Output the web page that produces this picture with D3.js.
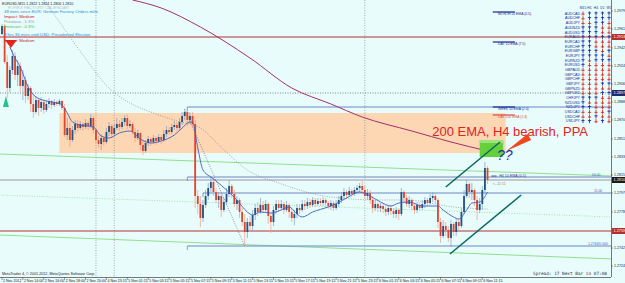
<!DOCTYPE html>
<html>
<head>
<meta charset="utf-8">
<script src="https://cdn.jsdelivr.net/npm/d3@7"></script>
<style>
  body { margin: 0; background: #fff; }
  svg { display: block; font-family: "Liberation Sans", Arial, sans-serif; }
</style>
</head>
<body>
<svg width="625" height="283"></svg>
<script>
// **** chart values (EURUSD, M15) ****

const firstOpen = 1.2956;

const closes = [
  1.2964, 1.2928, 1.2902, 1.2920, 1.2934, 1.2915, 1.2924, 1.2904, 1.2910, 1.2894,
  1.2902, 1.2886, 1.2878, 1.2890, 1.2882, 1.2888, 1.2880, 1.2886, 1.2889, 1.2885,
  1.2888, 1.2886, 1.2889, 1.2882, 1.2855, 1.2862, 1.2850, 1.2860, 1.2866, 1.2862,
  1.2866, 1.2863, 1.2867, 1.2864, 1.2872, 1.2860, 1.2850, 1.2846, 1.2852, 1.2848,
  1.2858, 1.2864, 1.2856, 1.2862, 1.2866, 1.2863, 1.2868, 1.2872, 1.2864, 1.2866,
  1.2858, 1.2852, 1.2857, 1.2845, 1.2839, 1.2847, 1.2851, 1.2848, 1.2852, 1.2849,
  1.2853, 1.2850, 1.2856, 1.2860, 1.2858, 1.2863, 1.2865, 1.2862, 1.2868, 1.2874,
  1.2878, 1.2870, 1.2874, 1.2866, 1.2794, 1.2786, 1.2772, 1.2785, 1.2794, 1.2802,
  1.2808, 1.2798, 1.2790, 1.2794, 1.2780, 1.2788, 1.2796, 1.2804, 1.2796, 1.2786,
  1.2790, 1.2778, 1.2768, 1.2758, 1.2768, 1.2764, 1.2775, 1.2782, 1.2778, 1.2785,
  1.2780, 1.2786, 1.2774, 1.2768, 1.2780, 1.2786, 1.2782, 1.2786, 1.2780, 1.2785,
  1.2778, 1.2772, 1.2776, 1.2782, 1.2780, 1.2786, 1.2784, 1.2788, 1.2785, 1.2790,
  1.2786, 1.2789, 1.2787, 1.2790, 1.2787, 1.2784, 1.2787, 1.2782, 1.2786, 1.2790,
  1.2794, 1.2798, 1.2795, 1.2799, 1.2796, 1.2800, 1.2802, 1.2804, 1.2800, 1.2794,
  1.2797, 1.2790, 1.2782, 1.2786, 1.2782, 1.2784, 1.2781, 1.2778, 1.2782, 1.2779,
  1.2776, 1.2780, 1.2776, 1.2798, 1.2792, 1.2786, 1.2790, 1.2784, 1.2780, 1.2785,
  1.2782, 1.2786, 1.2790, 1.2787, 1.2792, 1.2794, 1.2790, 1.2768, 1.2754, 1.2764,
  1.2760, 1.2752, 1.2766, 1.2758, 1.2768, 1.2764, 1.2778, 1.2794, 1.2806, 1.2798,
  1.2800, 1.2790, 1.2780, 1.2786, 1.2800, 1.2822, 1.2810
];

const highs = [
  1.2966, 1.2966, 1.2935, 1.2924, 1.2940, 1.2938, 1.2930, 1.2928, 1.2920, 1.2914,
  1.2906, 1.2904, 1.2896, 1.2894, 1.2892, 1.2893, 1.2891, 1.2890, 1.2892, 1.2890,
  1.2891, 1.2890, 1.2891, 1.2890, 1.2886, 1.2872, 1.2868, 1.2864, 1.2870, 1.2870,
  1.2869, 1.2868, 1.2871, 1.2869, 1.2876, 1.2874, 1.2862, 1.2854, 1.2856, 1.2854,
  1.2862, 1.2868, 1.2866, 1.2866, 1.2872, 1.2870, 1.2872, 1.2875, 1.2876, 1.2870,
  1.2868, 1.2862, 1.2860, 1.2858, 1.2850, 1.2850, 1.2854, 1.2853, 1.2855, 1.2854,
  1.2856, 1.2855, 1.2860, 1.2864, 1.2863, 1.2866, 1.2869, 1.2868, 1.2872, 1.2878,
  1.2881, 1.2880, 1.2878, 1.2878, 1.2870, 1.2800, 1.2794, 1.2790, 1.2800, 1.2807,
  1.2813, 1.2812, 1.2802, 1.2798, 1.2796, 1.2792, 1.2802, 1.2810, 1.2806, 1.2800,
  1.2794, 1.2792, 1.2782, 1.2776, 1.2772, 1.2774, 1.2780, 1.2786, 1.2788, 1.2792,
  1.2789, 1.2790, 1.2788, 1.2778, 1.2784, 1.2790, 1.2790, 1.2790, 1.2788, 1.2789,
  1.2787, 1.2782, 1.2780, 1.2786, 1.2786, 1.2790, 1.2790, 1.2792, 1.2791, 1.2793,
  1.2792, 1.2792, 1.2792, 1.2793, 1.2792, 1.2789, 1.2790, 1.2789, 1.2790, 1.2794,
  1.2798, 1.2802, 1.2800, 1.2803, 1.2801, 1.2803, 1.2805, 1.2807, 1.2809, 1.2804,
  1.2801, 1.2800, 1.2794, 1.2790, 1.2788, 1.2787, 1.2787, 1.2785, 1.2785, 1.2785,
  1.2782, 1.2783, 1.2782, 1.2802, 1.2800, 1.2795, 1.2794, 1.2792, 1.2787, 1.2788,
  1.2788, 1.2790, 1.2793, 1.2792, 1.2796, 1.2798, 1.2797, 1.2792, 1.2772, 1.2770,
  1.2768, 1.2764, 1.2770, 1.2768, 1.2772, 1.2771, 1.2782, 1.2800, 1.2810, 1.2808,
  1.2807, 1.2802, 1.2794, 1.2792, 1.2804, 1.2828, 1.2824
];

const lows = [
  1.2955, 1.2926, 1.2892, 1.2898, 1.2916, 1.2910, 1.2904, 1.2898, 1.2890, 1.2887,
  1.2890, 1.2878, 1.2872, 1.2876, 1.2874, 1.2878, 1.2876, 1.2878, 1.2882, 1.2881,
  1.2883, 1.2884, 1.2884, 1.2880, 1.2853, 1.2850, 1.2843, 1.2848, 1.2856, 1.2858,
  1.2860, 1.2859, 1.2861, 1.2860, 1.2862, 1.2856, 1.2847, 1.2842, 1.2840, 1.2844,
  1.2846, 1.2854, 1.2852, 1.2854, 1.2860, 1.2859, 1.2861, 1.2864, 1.2861, 1.2862,
  1.2855, 1.2848, 1.2850, 1.2840, 1.2835, 1.2837, 1.2844, 1.2844, 1.2846, 1.2845,
  1.2847, 1.2846, 1.2848, 1.2853, 1.2855, 1.2856, 1.2860, 1.2859, 1.2860, 1.2865,
  1.2870, 1.2864, 1.2866, 1.2862, 1.2782, 1.2776, 1.2763, 1.2768, 1.2782, 1.2790,
  1.2798, 1.2794, 1.2787, 1.2782, 1.2773, 1.2778, 1.2785, 1.2793, 1.2792, 1.2783,
  1.2780, 1.2772, 1.2764, 1.2744, 1.2752, 1.2758, 1.2760, 1.2770, 1.2774, 1.2776,
  1.2777, 1.2778, 1.2766, 1.2757, 1.2764, 1.2776, 1.2778, 1.2780, 1.2776, 1.2778,
  1.2772, 1.2768, 1.2765, 1.2772, 1.2776, 1.2778, 1.2780, 1.2781, 1.2782, 1.2783,
  1.2783, 1.2784, 1.2784, 1.2784, 1.2782, 1.2781, 1.2780, 1.2779, 1.2780, 1.2783,
  1.2787, 1.2791, 1.2792, 1.2793, 1.2793, 1.2794, 1.2796, 1.2797, 1.2796, 1.2791,
  1.2790, 1.2786, 1.2777, 1.2779, 1.2778, 1.2778, 1.2777, 1.2774, 1.2775, 1.2775,
  1.2772, 1.2772, 1.2770, 1.2774, 1.2787, 1.2783, 1.2782, 1.2780, 1.2776, 1.2777,
  1.2779, 1.2780, 1.2782, 1.2784, 1.2785, 1.2788, 1.2786, 1.2762, 1.2747, 1.2752,
  1.2754, 1.2748, 1.2743, 1.2754, 1.2754, 1.2760, 1.2762, 1.2776, 1.2792, 1.2792,
  1.2790, 1.2784, 1.2770, 1.2777, 1.2780, 1.2796, 1.2806
];

// moving averages, read as [bar, price] points
const fastEma = [
  [3,1.2943],[5,1.2932],[7,1.2923],[10,1.2903],[13,1.2893],[17,1.2889],[21,1.2887],[23,1.2885],
  [25,1.2877],[27,1.2868],[30,1.2865],[35,1.2863],[38,1.2854],[41,1.2852],[45,1.2857],[49,1.2859],
  [53,1.2851],[57,1.2847],[61,1.2849],[66,1.2855],[69,1.2862],[72,1.2868],[73,1.2868],[75,1.2842],
  [77,1.2820],[80,1.2813],[82,1.2809],[86,1.2800],[90,1.2790],[94,1.2778],[96,1.2775],[99,1.2778],
  [103,1.2777],[106,1.2779],[110,1.2783],[113,1.2776],[115,1.2773],[119,1.2778],[125,1.2783],
  [127,1.2785],[132,1.2792],[137,1.2798],[141,1.2794],[145,1.2788],[149,1.2784],[152,1.2787],
  [156,1.2788],[161,1.2784],[167,1.2784],[169,1.2780],[173,1.2773],[175,1.2771],[178,1.2780],
  [180,1.2787],[183,1.2788],[186,1.2798]
];
const slowEma = [
  [16,1.2990],[22,1.2968],[31,1.2935],[41,1.2902],[49,1.2887],[57,1.2878],[67,1.2869],[76,1.2862],
  [85,1.2840],[94,1.2820],[106,1.2807],[126,1.2793],[145,1.2790],[155,1.2790],[173,1.2783],[186,1.2781]
];
const ema200 = [
  [50,1.2990],[61,1.2982],[76,1.2963],[95,1.2932],[111,1.2902],[126,1.2886],[138,1.2873],
  [157,1.2859],[172,1.2848],[186,1.2839]
];

// levels and drawn objects
const redLevels = [1.2953, 1.2759];
const askLevel = 1.2897;
const blueLevels = [1.2883, 1.2813, 1.2797, 1.2744];
const blueLevelStart = [71, 71, 77, 71];
const emaLabels = ['MONTH 10 EMA (0.5)', 'DAY 10 EMA (7.5)', 'WEEK 10 EMA (2.0)', 'DAY 200 EMA (2.4)'];
const emaLabelPrices = [1.2978, 1.2948, 1.2883, 1.2875];
const supplyZone = { from: 22, to: 193, top: 1.2877, bottom: 1.2837 };
const greenBox = { from: 183, to: 192, top: 1.2850, bottom: 1.2833 };
const channelUpper = [[170, 1.2803], [190.8, 1.2848]];
const channelLower = [[171.6, 1.2736], [198.9, 1.2795]];
const greenLines = [
  [[-1, 1.2836], [234, 1.2814]],
  [[-1, 1.2795], [234, 1.2773]],
  [[-1, 1.2755], [234, 1.2731]]
];
const dottedTrend = [[70, 1.2881], [93, 1.2744]];
const daySeparators = [36, 43, 139];

// axes
const timeLabels = ['2 Nov 2012', '2 Nov 14:00', '2 Nov 16:00', '2 Nov 18:00', '2 Nov 20:00', '4 Nov 23:15',
  '5 Nov 01:15', '5 Nov 03:15', '5 Nov 05:15', '5 Nov 07:15', '5 Nov 09:15', '5 Nov 11:15',
  '5 Nov 13:15', '5 Nov 15:15', '5 Nov 17:15', '5 Nov 19:15', '5 Nov 21:15', '5 Nov 23:15',
  '6 Nov 01:15', '6 Nov 03:15', '6 Nov 05:15', '6 Nov 07:15', '6 Nov 09:15', '6 Nov 11:15'];
const priceTicks = [1.2979, 1.2961, 1.2942, 1.2924, 1.2906, 1.2888, 1.2870, 1.2851, 1.2833,
  1.2815, 1.2797, 1.2778, 1.2760, 1.2742, 1.2724];

// currency strength panel
const pairs = ['AUDCAD', 'AUDCHF', 'AUDJPY', 'AUDNZD', 'AUDUSD', 'EURAUD', 'EURCAD', 'EURCHF',
  'EURGBP', 'EURJPY', 'EURNZD', 'EURUSD', 'GBPAUD', 'GBPCAD', 'GBPCHF', 'GBPJPY', 'GBPNZD',
  'GBPUSD', 'CHFJPY', 'NZDUSD', 'NZDJPY', 'USDCAD', 'USDCHF', 'USDJPY'];
const frames = ['M15', 'H1', 'H4', 'D1', 'W1'];
const signals = ['duuuu', 'duuuu', 'dduud', 'uuudd', 'uuudd', 'uuuuu', 'uuddd', 'uuddd',
  'uuudu', 'uuuud', 'uduuu', 'udddd', 'ddddd', 'ddddd', 'ddddd', 'ddduu', 'ddddd',
  'ddduu', 'uuudd', 'udddd', 'uuddd', 'ddddu', 'ddudd', 'uudud'];

// calendar text
const calendarLines = ['FOREX FACTORY CALENDAR', '48 mins since EUR: German Factory Orders m/m',
  'Impact: Medium', 'Previous: -1.3%', 'Forecast: -0.3%',
  '9 hrs 36 mins until USD: Presidential Election', 'Impact: Medium'];

// **** drawing ****

const W = 625, H = 283, plotR = 611, plotB = 277;
const svg = d3.select('svg');

const x = d3.scaleLinear().domain([0, 233.3]).range([2, plotR]);
const y = d3.scaleLinear().domain([1.2713, 1.2990]).range([plotB, 0]);

svg.append('rect').attr('width', W).attr('height', H).attr('fill', '#e9fcfc');

svg.append('clipPath').attr('id', 'plot')
  .append('rect').attr('width', plotR).attr('height', plotB);

const plot = svg.append('g').attr('clip-path', 'url(#plot)');

// supply zone
plot.append('rect')
  .attr('x', x(supplyZone.from)).attr('width', x(supplyZone.to) - x(supplyZone.from))
  .attr('y', y(supplyZone.top)).attr('height', y(supplyZone.bottom) - y(supplyZone.top))
  .attr('fill', '#fdd6b3');

// day separators
daySeparators.forEach(b => {
  plot.append('line')
    .attr('x1', x(b)).attr('x2', x(b)).attr('y1', 0).attr('y2', plotB)
    .attr('stroke', '#777').attr('stroke-width', 0.6).attr('stroke-dasharray', '1,1.5');
});

// green sloping lines
greenLines.forEach((ln, k) => {
  plot.append('line')
    .attr('x1', x(ln[0][0])).attr('y1', y(ln[0][1]))
    .attr('x2', x(ln[1][0])).attr('y2', y(ln[1][1]))
    .attr('stroke', '#8fdf8f').attr('stroke-width', k === 1 ? 0.8 : 1)
    .attr('stroke-dasharray', k === 1 ? '1,1.5' : null);
});

// ask dotted line
plot.append('line')
  .attr('x1', 0).attr('x2', plotR).attr('y1', y(askLevel)).attr('y2', y(askLevel))
  .attr('stroke', '#555').attr('stroke-width', 0.7).attr('stroke-dasharray', '1,1.5');

// bid line (last close)
const lastClose = closes[closes.length - 1];
plot.append('line')
  .attr('x1', 0).attr('x2', plotR).attr('y1', y(lastClose)).attr('y2', y(lastClose))
  .attr('stroke', '#c4c8cc').attr('stroke-width', 1.8);

// blue indicator levels
blueLevels.forEach((p, k) => {
  plot.append('line')
    .attr('x1', x(blueLevelStart[k])).attr('x2', plotR).attr('y1', y(p)).attr('y2', y(p))
    .attr('stroke', '#6b86c6').attr('stroke-width', 1);
  plot.append('line')
    .attr('x1', x(blueLevelStart[k])).attr('x2', x(blueLevelStart[k]))
    .attr('y1', y(p)).attr('y2', y(p) + 4)
    .attr('stroke', '#6b86c6').attr('stroke-width', 0.8);
});

// red levels
redLevels.forEach(p => {
  plot.append('line')
    .attr('x1', 0).attr('x2', plotR).attr('y1', y(p)).attr('y2', y(p))
    .attr('stroke', '#b3302c').attr('stroke-width', 1);
});

// moving averages
const maLine = d3.line().x(d => x(d[0])).y(d => y(d[1])).curve(d3.curveMonotoneX);

plot.append('path').datum(ema200).attr('d', maLine)
  .attr('fill', 'none').attr('stroke', '#a3306c').attr('stroke-width', 1);
plot.append('path').datum(slowEma).attr('d', maLine)
  .attr('fill', 'none').attr('stroke', '#8a8a8a').attr('stroke-width', 0.7).attr('stroke-dasharray', '1,1.4');
plot.append('line')
  .attr('x1', x(dottedTrend[0][0])).attr('y1', y(dottedTrend[0][1]))
  .attr('x2', x(dottedTrend[1][0])).attr('y2', y(dottedTrend[1][1]))
  .attr('stroke', '#666').attr('stroke-width', 0.7).attr('stroke-dasharray', '1,1.4');

// candles
const bars = closes.map((c, i) => {
  const o = i ? closes[i - 1] : firstOpen;
  return { i, o, c, h: Math.max(highs[i], o, c), l: Math.min(lows[i], o, c) };
});

const candle = plot.selectAll('g.candle').data(bars).enter().append('g').attr('class', 'candle');
candle.append('line')
  .attr('x1', d => x(d.i)).attr('x2', d => x(d.i))
  .attr('y1', d => y(d.h)).attr('y2', d => y(d.l))
  .attr('stroke', d => d.c >= d.o ? '#7d9dc4' : '#f29b86').attr('stroke-width', 0.7);
candle.append('rect')
  .attr('x', d => x(d.i) - 0.9).attr('width', 1.8)
  .attr('y', d => y(Math.max(d.o, d.c)))
  .attr('height', d => Math.max(0.7, Math.abs(y(d.o) - y(d.c))))
  .attr('fill', d => d.c >= d.o ? '#24527e' : '#e2452a');

plot.append('path').datum(fastEma).attr('d', maLine)
  .attr('fill', 'none').attr('stroke', '#3b5fc4').attr('stroke-width', 0.9);

// green target box
plot.append('rect')
  .attr('x', x(greenBox.from)).attr('width', x(greenBox.to) - x(greenBox.from))
  .attr('y', y(greenBox.top)).attr('height', y(greenBox.bottom) - y(greenBox.top))
  .attr('fill', '#66cf3c');
plot.append('rect')
  .attr('x', x(greenBox.from)).attr('width', x(greenBox.to) - x(greenBox.from))
  .attr('y', y(greenBox.top)).attr('height', 3)
  .attr('fill', '#9be47a');

// channel
[channelUpper, channelLower].forEach(ln => {
  plot.append('line')
    .attr('x1', x(ln[0][0])).attr('y1', y(ln[0][1]))
    .attr('x2', x(ln[1][0])).attr('y2', y(ln[1][1]))
    .attr('stroke', '#0b6b62').attr('stroke-width', 1.6);
});

// event markers
const evX = x(3.4), evY = y(1.2950);
plot.append('path')
  .attr('d', `M${evX - 6},${evY} L${evX + 6},${evY} L${evX},${evY + 8} Z`)
  .attr('fill', '#e8261c');
const upX = x(1.5), upY = y(1.2883);
plot.append('path')
  .attr('d', `M${upX - 3},${upY} L${upX + 3},${upY} L${upX},${upY - 11} Z`)
  .attr('fill', '#22c48a');

// ema labels at right
emaLabels.forEach((t, k) => {
  const yy = y(emaLabelPrices[k]);
  const col = k === 3 ? '#d2504a' : '#1c2a8c';
  plot.append('line').attr('x1', x(188)).attr('x2', x(196.5)).attr('y1', yy).attr('y2', yy)
    .attr('stroke', col).attr('stroke-width', 1.2);
  plot.append('text').attr('x', x(190)).attr('y', yy + 3.4)
    .attr('font-size', 3.4).attr('fill', col).text(t);
});

const h4y = y(blueLevels[1]);
plot.append('line').attr('x1', x(187.5)).attr('x2', x(189.5)).attr('y1', h4y - 1).attr('y2', h4y - 1)
  .attr('stroke', '#1c2a8c').attr('stroke-width', 0.8);
plot.append('text').attr('x', x(190.5)).attr('y', h4y - 0.2)
  .attr('font-size', 3.6).attr('fill', '#2b3aa0').text('H4 10 EMA (0.5)');
plot.append('text').attr('x', x(188)).attr('y', y(lastClose) + 5)
  .attr('font-size', 3.6).attr('fill', '#a08060').text('<--11:11');

plot.append('text').attr('x', 592).attr('y', y(blueLevels[1]) - 0.8)
  .attr('font-size', 3.4).attr('fill', '#4a64c0').text('00.00');
plot.append('text').attr('x', 594).attr('y', y(blueLevels[2]) - 0.8)
  .attr('font-size', 3.4).attr('fill', '#4a64c0').text('11.00');
plot.append('text').attr('x', 588).attr('y', y(blueLevels[3]) - 0.8)
  .attr('font-size', 3.4).attr('fill', '#4a64c0').text('1.2744/0.000');

// annotation
plot.append('text').attr('x', x(164.8)).attr('y', y(1.2854))
  .attr('font-size', 13).attr('fill', '#e3221b').text('200 EMA, H4 bearish, PPA');
plot.append('text').attr('x', x(189.6)).attr('y', y(1.2830))
  .attr('font-size', 14).attr('font-style', 'italic').attr('fill', '#1c2a9a').text('??');

const tipX = x(193.2), tipY = y(1.2839), tailX = x(202), tailY = y(1.2853);
const ang = Math.atan2(tailY - tipY, tailX - tipX);
const nx = -Math.sin(ang) * 3.6, ny = Math.cos(ang) * 3.6;
plot.append('path')
  .attr('d', `M${tipX},${tipY} L${tailX + nx},${tailY + ny} L${tailX - nx},${tailY - ny} Z`)
  .attr('fill', '#f2461c');

// currency strength panel
const panel = plot.append('g');
const colX = [583, 589.5, 596, 602.5, 609];
frames.forEach((f, c) => {
  panel.append('text').attr('x', colX[c]).attr('y', 8.5).attr('text-anchor', 'middle')
    .attr('font-size', 3.4).attr('fill', '#1c2a8c').text(f);
});
pairs.forEach((p, r) => {
  const ry = 13.5 + r * 4.68;
  panel.append('text').attr('x', 580).attr('y', ry + 1.3).attr('text-anchor', 'end')
    .attr('font-size', 3.6).attr('fill', '#1c2a8c').text(p);
  signals[r].split('').forEach((s, c) => {
    const up = s === 'u';
    const col = up ? '#1f2fa8' : '#de2a22';
    const cx = colX[c];
    panel.append('line').attr('x1', cx).attr('x2', cx).attr('y1', ry - 2).attr('y2', ry + 2)
      .attr('stroke', col).attr('stroke-width', 0.9);
    panel.append('line').attr('x1', cx - 1.6).attr('x2', cx + 1.6)
      .attr('y1', up ? ry - 0.6 : ry + 0.6).attr('y2', up ? ry - 0.6 : ry + 0.6)
      .attr('stroke', col).attr('stroke-width', 0.9);
  });
});

// calendar text block
const last = bars[bars.length - 1];
plot.append('text').attr('x', 2).attr('y', 4.5).attr('font-size', 3.6).attr('fill', '#222')
  .text(`EURUSD,M15  ${last.o.toFixed(4)} ${last.h.toFixed(4)} ${last.l.toFixed(4)} ${last.c.toFixed(4)}`);
const calY = [8.5, 13, 18, 23, 28, 36, 41.5];
const calCol = ['#b9c4c4', '#2a8fd0', '#d02222', '#8a9a9a', '#3cc23c', '#2a8fd0', '#d02222'];
calendarLines.forEach((t, k) => {
  plot.append('text').attr('x', k === 0 ? 8 : 4).attr('y', calY[k])
    .attr('font-size', 4.3).attr('fill', calCol[k]).text(t);
});

plot.append('text').attr('x', 2).attr('y', 274.5).attr('font-size', 3.7).attr('fill', '#222')
  .text('MetaTrader 4, \u00a9 2001-2012, MetaQuotes Software Corp.');
plot.append('text').attr('x', 533).attr('y', 274.5).attr('font-size', 4.4)
  .attr('font-family', '"DejaVu Sans Mono", monospace').attr('fill', '#333')
  .text('Spread: 17   Next Bar in 07:08');

// axes frame
svg.append('line').attr('x1', plotR + 0.5).attr('x2', plotR + 0.5).attr('y1', 0).attr('y2', plotB)
  .attr('stroke', '#555').attr('stroke-width', 0.8);
svg.append('line').attr('x1', 0).attr('x2', plotR).attr('y1', plotB + 0.5).attr('y2', plotB + 0.5)
  .attr('stroke', '#555').attr('stroke-width', 0.8);

// price axis
priceTicks.forEach(p => {
  svg.append('line').attr('x1', plotR).attr('x2', plotR + 2).attr('y1', y(p)).attr('y2', y(p))
    .attr('stroke', '#555').attr('stroke-width', 0.6);
  svg.append('text').attr('x', plotR + 3).attr('y', y(p) + 1.3)
    .attr('font-size', 3.6).attr('fill', '#222').text(p.toFixed(4));
});

const boxes = [[redLevels[0], '#b3302c'], [askLevel, '#1e2a6e'], [lastClose, '#1a1a1a'], [redLevels[1], '#b3302c']];
boxes.forEach(([p, col]) => {
  svg.append('rect').attr('x', plotR + 1).attr('y', y(p) - 3).attr('width', 13).attr('height', 6)
    .attr('fill', col);
  svg.append('text').attr('x', plotR + 2.5).attr('y', y(p) + 1.4)
    .attr('font-size', 3.8).attr('fill', '#fff').text(p.toFixed(4));
});

// time axis
timeLabels.forEach((t, k) => {
  const tx = x(k * 8);
  svg.append('line').attr('x1', tx).attr('x2', tx).attr('y1', plotB).attr('y2', plotB + 3)
    .attr('stroke', '#555').attr('stroke-width', 0.6);
  svg.append('text').attr('x', tx + 1).attr('y', 282.3)
    .attr('font-size', 3.6).attr('fill', '#222').text(t);
});
</script>
</body>
</html>
